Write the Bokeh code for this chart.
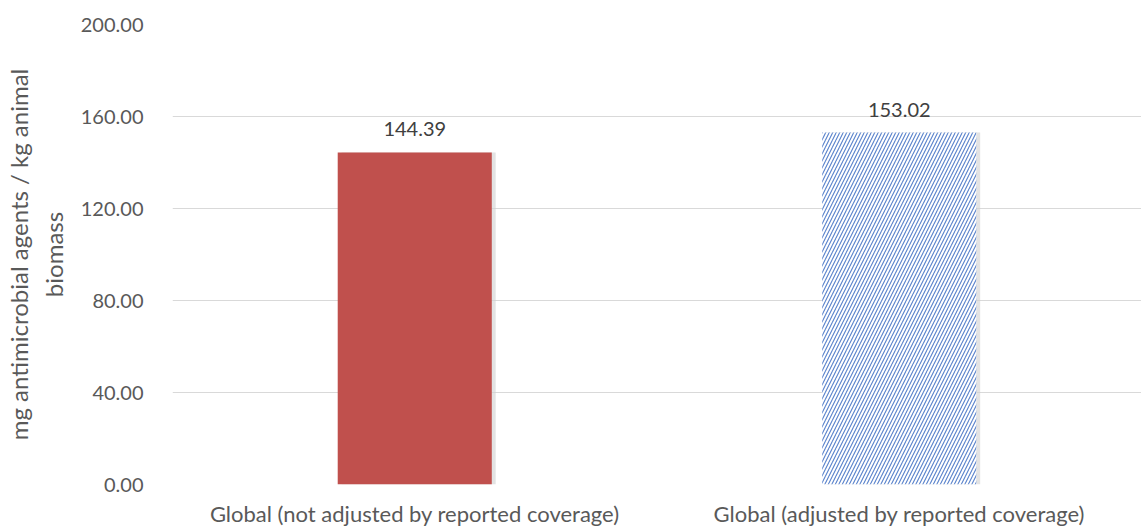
from bokeh.plotting import figure
from bokeh.models import ColumnDataSource, FixedTicker, LabelSet, NumeralTickFormatter
from bokeh.transform import dodge
from bokeh.core.properties import value
from bokeh.embed import file_html
from bokeh.resources import INLINE

categories = ["Global (not adjusted by reported coverage)", "Global (adjusted by reported coverage)"]
values = [144.39, 153.02]
labels = ["144.39", "153.02"]
fills = ["#C0504D", "#FFFFFF"]
hatches = [" ", "/"]
y_ticks = [0, 40, 80, 120, 160, 200]

FONT = "Lato"

src = ColumnDataSource(dict(cat=categories, val=values, lab=labels, fill=fills, hatch=hatches))

p = figure(x_range=categories, y_range=(0, 200), width=1141, height=529,
           output_backend="svg", toolbar_location=None,
           min_border_left=166, min_border_right=0, min_border_top=24, min_border_bottom=42)
p.outline_line_color = None
p.background_fill_color = "white"

# faint shadow
p.vbar(x=dodge("cat", 0.008, range=p.x_range), top="val", width=0.318, bottom=0,
       fill_color="#D0D0D0", fill_alpha=0.6, line_color=None, source=src)

p.vbar(x="cat", top="val", width=0.318, bottom=0, source=src,
       fill_color="fill", line_color=None,
       hatch_pattern="hatch", hatch_color="#4472C4", hatch_scale=7, hatch_weight=1.1,
       hatch_alpha=0.9)

lbl = LabelSet(x="cat", y="val", text="lab", source=src, text_align="center",
               text_baseline="bottom", y_offset=16, text_font=value(FONT),
               text_font_size="20px", text_color="#404040")
p.add_layout(lbl)

p.xgrid.grid_line_color = None
p.ygrid.grid_line_color = "#D9D9D9"
p.ygrid.grid_line_width = 1
p.yaxis.ticker = FixedTicker(ticks=y_ticks)
p.yaxis.formatter = NumeralTickFormatter(format="0.00")
for ax in (p.xaxis, p.yaxis):
    ax.axis_line_color = None
    ax.major_tick_line_color = None
    ax.minor_tick_line_color = None
    ax.major_label_text_font = FONT
    ax.major_label_text_color = "#595959"
p.yaxis.major_label_text_font_size = "20px"
p.xaxis.major_label_text_font_size = "22px"
p.yaxis.major_label_standoff = 23
p.xaxis.major_label_standoff = 9
p.yaxis.axis_label = "mg antimicrobial agents / kg animal\nbiomass"
p.yaxis.axis_label_text_font = FONT
p.yaxis.axis_label_text_font_size = "24px"
p.yaxis.axis_label_text_font_style = "normal"
p.yaxis.axis_label_text_color = "#595959"
p.yaxis.axis_label_standoff = 10

open("out.html", "w").write(file_html(p, INLINE))
